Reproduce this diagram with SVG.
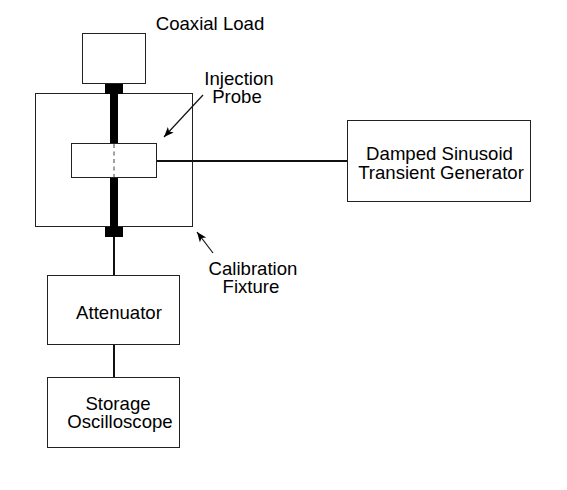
<svg xmlns="http://www.w3.org/2000/svg" width="567" height="490" viewBox="0 0 567 490">
<style>
text{font-family:"Liberation Sans",Arial,sans-serif;font-size:18.6px;fill:#000;text-anchor:middle}
.box{fill:#fff;stroke:#222;stroke-width:1}
.wire{stroke:#111;stroke-width:2;fill:none}
.thin{stroke:#111;stroke-width:1.2;fill:none}
.bar{fill:#000}
</style>
<defs>
<marker id="arrow" markerUnits="userSpaceOnUse" markerWidth="11" markerHeight="9" refX="10" refY="4" orient="auto"><path d="M0,0 L10,4 L0,8 L2.5,4 z" fill="#000"/></marker>
</defs>
<g id="fixture"><rect class="box" x="35.500" y="93.500" width="157" height="133"/></g>
<g id="connectors">
<rect class="bar" x="105" y="84" width="18" height="10"/>
<rect class="bar" x="110" y="94" width="8" height="50"/>
<rect class="bar" x="110" y="177" width="8" height="50"/>
<rect class="bar" x="105" y="227" width="18" height="10"/>
<path class="wire" d="M114,237V275M114,345V377M157,161H347"/>
<path class="thin" d="M203,95L164,137" marker-end="url(#arrow)"/>
<path class="thin" d="M213,253L197,232" marker-end="url(#arrow)"/>
</g>
<g id="coaxial-load"><rect class="box" x="82.500" y="33.500" width="63" height="50"/><text x="210" y="30">Coaxial Load</text></g>
<g id="injection-probe"><rect class="box" x="71.500" y="143.500" width="85" height="34"/><path d="M114,144V177" stroke="#444" stroke-width="1" stroke-dasharray="4 3.500" fill="none"/><text x="239" y="85">Injection</text><text x="237" y="103">Probe</text></g>
<g id="generator"><rect class="box" x="347.500" y="120.500" width="183" height="81"/><text x="439.500" y="160">Damped Sinusoid</text><text x="441" y="179">Transient Generator</text></g>
<g id="fixture-label"><text x="253" y="275">Calibration</text><text x="251" y="293">Fixture</text></g>
<g id="attenuator"><rect class="box" x="47.500" y="275.500" width="132" height="69"/><text x="119" y="319">Attenuator</text></g>
<g id="oscilloscope"><rect class="box" x="47.500" y="377.500" width="132" height="70"/><text x="118" y="410">Storage</text><text x="120" y="428">Oscilloscope</text></g>
</svg>
